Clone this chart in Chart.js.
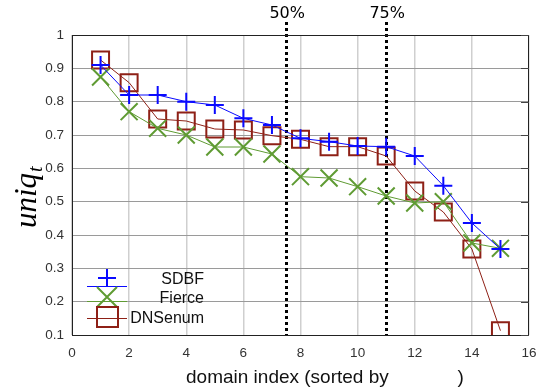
<!DOCTYPE html>
<html><head><meta charset="utf-8">
<script src="https://cdn.jsdelivr.net/npm/chart.js@4/dist/chart.umd.min.js"></script>
<style>html,body{margin:0;padding:0;background:#fff}#w{width:543px;height:389px}</style>
</head><body><div id="w"><canvas id="c" width="543" height="389"></canvas></div>
<script>
const domainIndex = [1,2,3,4,5,6,7,8,9,10,11,12,13,14,15];
const sdbf    = [0.91,0.82,0.82,0.80,0.79,0.75,0.73,0.69,0.68,0.667,0.665,0.637,0.548,0.436,0.358];
const fierce  = [0.874,0.77,0.72,0.70,0.664,0.664,0.643,0.575,0.571,0.545,0.517,0.496,0.50,0.376,0.36];
const dnsenum = [0.925,0.857,0.748,0.742,0.718,0.715,0.698,0.687,0.665,0.665,0.637,0.532,0.469,0.358,0.113];
const seriesNames = ['SDBF','Fierce','DNSenum'];
const xTicks = [0,2,4,6,8,10,12,14,16];
const yTicks = [0.1,0.2,0.3,0.4,0.5,0.6,0.7,0.8,0.9,1];
const percentileX = [7.5, 11];
const percentileLabels = ['50%','75%'];
const xTitle = 'domain index (sorted by             )';

const BLUE='#0a0aff', GREEN='#5f9b33', RED='#8e2016';
const pts = ys => domainIndex.map((x,i)=>({x, y: ys[i]}));

function plus(ctx,x,y,r){ctx.beginPath();ctx.moveTo(x-r,y);ctx.lineTo(x+r,y);ctx.moveTo(x,y-r);ctx.lineTo(x,y+r);ctx.stroke();}
function xmark(ctx,x,y,r){ctx.beginPath();ctx.moveTo(x-r,y-r);ctx.lineTo(x+r,y+r);ctx.moveTo(x-r,y+r);ctx.lineTo(x+r,y-r);ctx.stroke();}

const deco = {
  id:'deco',
  beforeDatasetsDraw(chart){
    const {ctx, chartArea:a, scales:{x,y}} = chart;
    ctx.save();
    ctx.strokeStyle='#000'; ctx.lineWidth=3; ctx.setLineDash([3,3]);
    percentileX.forEach(v=>{
      const px = Math.round(x.getPixelForValue(v))+0.5;
      ctx.beginPath(); ctx.moveTo(px,22); ctx.lineTo(px,a.bottom); ctx.stroke();
    });
    ctx.restore();
  },
  afterDraw(chart){
    const {ctx, chartArea:a, scales:{x,y}} = chart;
    ctx.save();
    ctx.strokeStyle='#222'; ctx.lineWidth=1;
    ctx.strokeRect(Math.round(a.left)+0.5, Math.round(a.top)+0.5, Math.round(a.right-a.left)-1, Math.round(a.bottom-a.top));
    ctx.strokeStyle='#444';
    yTicks.forEach(v=>{const py=Math.round(y.getPixelForValue(v))+0.5; ctx.beginPath(); ctx.moveTo(a.right-8,py); ctx.lineTo(a.right,py); ctx.stroke();});
    ctx.fillStyle='#000'; ctx.font='16px "DejaVu Sans"'; ctx.textAlign='center'; ctx.textBaseline='alphabetic';
    percentileX.forEach((v,i)=>ctx.fillText(percentileLabels[i], x.getPixelForValue(v)+1, 18));
    ctx.save();
    ctx.translate(36,228); ctx.rotate(-Math.PI/2);
    ctx.font='italic 31px "Liberation Serif"'; ctx.textAlign='left';
    ctx.fillText('uniq',0,0);
    const w = ctx.measureText('uniq').width;
    ctx.font='italic 20px "Liberation Serif"';
    ctx.fillText('t', w+1, 6);
    ctx.restore();
    ctx.font='19px "Liberation Sans"'; ctx.textAlign='left'; ctx.fillStyle='#111';
    ctx.fillText(xTitle, 186, 383);
    const rows=[{c:BLUE,ly:286,my:278},{c:GREEN,ly:301,my:297},{c:RED,ly:318,my:317}];
    rows.forEach((r,i)=>{
      ctx.strokeStyle=r.c; ctx.lineWidth=1;
      ctx.beginPath(); ctx.moveTo(87,r.ly+0.5); ctx.lineTo(127,r.ly+0.5); ctx.stroke();
      ctx.lineWidth=2;
      if(i===0) plus(ctx,107,r.my,9);
      else if(i===1) xmark(ctx,107,r.my,10);
      else ctx.strokeRect(97,r.my-10,21,20);
      ctx.fillStyle='#111'; ctx.font='16px "Liberation Sans"'; ctx.textAlign='right';
      ctx.fillText(seriesNames[i], 204, r.my+6);
    });
    ctx.restore();
  }
};

new Chart(document.getElementById('c'), {
  type:'line',
  data:{datasets:[
    {label:seriesNames[0], data:pts(sdbf), borderColor:BLUE, borderWidth:1, pointStyle:'cross', pointRadius:9, pointBorderWidth:2, pointBorderColor:BLUE, pointBackgroundColor:BLUE, tension:0},
    {label:seriesNames[1], data:pts(fierce), borderColor:GREEN, borderWidth:1, pointStyle:'crossRot', pointRadius:12, pointBorderWidth:2, pointBorderColor:GREEN, pointBackgroundColor:GREEN, tension:0},
    {label:seriesNames[2], data:pts(dnsenum), borderColor:RED, borderWidth:1, pointStyle:'rect', pointRadius:12, pointBorderWidth:2, pointBorderColor:RED, pointBackgroundColor:'rgba(0,0,0,0)', tension:0}
  ]},
  options:{
    responsive:false, animation:false, devicePixelRatio:1,
    layout:{padding:{left:0,right:7,top:35,bottom:0}},
    plugins:{legend:{display:false}, tooltip:{enabled:false}},
    scales:{
      x:{type:'linear', min:0, max:16,
        afterBuildTicks:s=>{s.ticks=xTicks.map(v=>({value:v}));},
        afterFit:s=>{s.height=54;},
        grid:{color:'#cfcfcf', lineWidth:1.5, drawTicks:true, tickLength:10, tickColor:'rgba(0,0,0,0)'},
        border:{display:false},
        ticks:{autoSkip:false, maxRotation:0, padding:0, color:'#333', font:{family:'Liberation Sans', size:13.5}, callback:v=>String(v)}},
      y:{type:'linear', min:0.1, max:1,
        afterBuildTicks:s=>{s.ticks=yTicks.map(v=>({value:v}));},
        afterFit:s=>{s.width=72;},
        grid:{color:'#9a9a9a', lineWidth:1, drawTicks:false},
        border:{display:false},
        ticks:{autoSkip:false, padding:8, color:'#333', font:{family:'Liberation Sans', size:13.5}, callback:v=>String(+v.toFixed(1))}}
    }
  },
  plugins:[deco]
});
</script></body></html>
